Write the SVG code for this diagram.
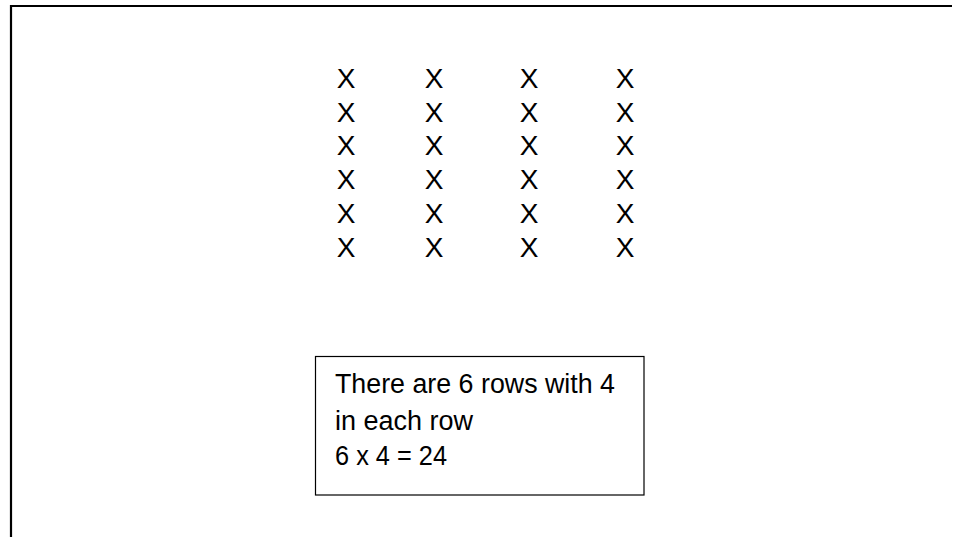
<svg xmlns="http://www.w3.org/2000/svg" width="953" height="537" viewBox="0 0 953 537">
<style>
.x{font-family:"Liberation Sans",Arial,sans-serif;font-size:28px;fill:#000;text-anchor:middle}
.t{font-family:"Liberation Sans",Arial,sans-serif;font-size:27px;fill:#000}
</style>
<rect width="953" height="537" fill="#fff"/>
<g id="frame" fill="none" stroke="#000" stroke-width="2.2">
<polyline points="11,537 11,6 952,6"/>
</g>
<g id="array">
<g id="row1"><text class="x" x="346" y="88">X</text><text class="x" x="434" y="88">X</text><text class="x" x="529" y="88">X</text><text class="x" x="625" y="88">X</text></g>
<g id="row2"><text class="x" x="346" y="121.7">X</text><text class="x" x="434" y="121.7">X</text><text class="x" x="529" y="121.7">X</text><text class="x" x="625" y="121.7">X</text></g>
<g id="row3"><text class="x" x="346" y="155.4">X</text><text class="x" x="434" y="155.4">X</text><text class="x" x="529" y="155.4">X</text><text class="x" x="625" y="155.4">X</text></g>
<g id="row4"><text class="x" x="346" y="189.1">X</text><text class="x" x="434" y="189.1">X</text><text class="x" x="529" y="189.1">X</text><text class="x" x="625" y="189.1">X</text></g>
<g id="row5"><text class="x" x="346" y="222.8">X</text><text class="x" x="434" y="222.8">X</text><text class="x" x="529" y="222.8">X</text><text class="x" x="625" y="222.8">X</text></g>
<g id="row6"><text class="x" x="346" y="256.5">X</text><text class="x" x="434" y="256.5">X</text><text class="x" x="529" y="256.5">X</text><text class="x" x="625" y="256.5">X</text></g>
</g>
<g id="note">
<rect x="315.5" y="356.5" width="328.5" height="138.5" fill="#fff" stroke="#000" stroke-width="1.2"/>
<text class="t" x="335" y="393.3" textLength="280" lengthAdjust="spacingAndGlyphs">There are 6 rows with 4</text>
<text class="t" x="335" y="430">in each row</text>
<text class="t" x="335" y="465" textLength="112" lengthAdjust="spacingAndGlyphs">6 x 4 = 24</text>
</g>
<g id="connectors"/>
</svg>
